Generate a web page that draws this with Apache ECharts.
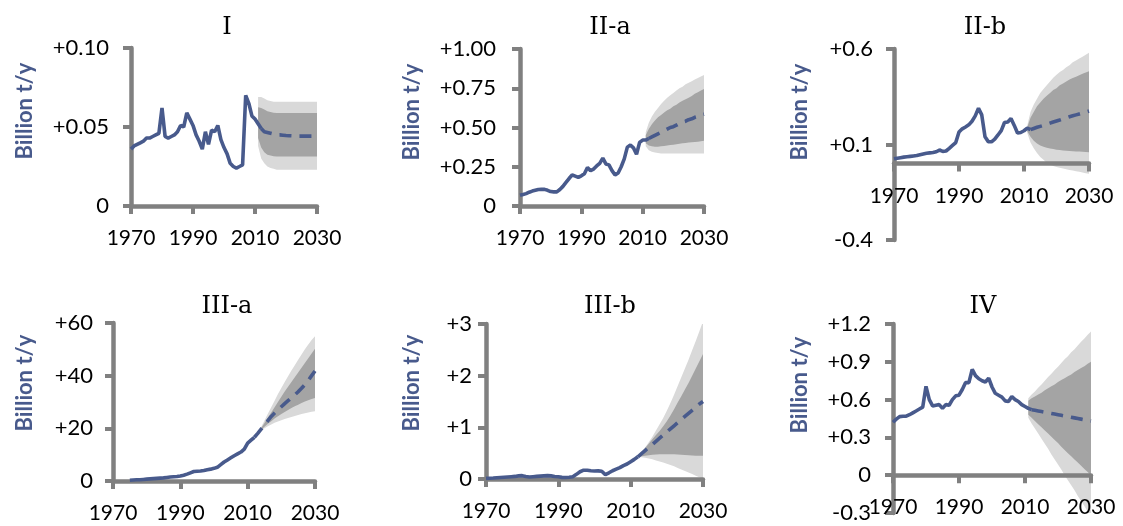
<!DOCTYPE html>
<html><head><meta charset="utf-8">
<script src="https://cdn.jsdelivr.net/npm/echarts@6/dist/echarts.min.js"></script>
<style>html,body{margin:0;padding:0;background:#fff}#c{width:1123px;height:526px}</style>
</head><body><div id="c"></div>
<script>
// ---------- DATA ----------
const histYears = [1970,1971,1972,1973,1974,1975,1976,1977,1978,1979,1980,1981,1982,1983,1984,1985,1986,1987,1988,1989,1990,1991,1992,1993,1994,1995,1996,1997,1998,1999,2000,2001,2002,2003,2004,2005,2006,2007,2008,2009,2010,2011,2012];
const foreYears = [2012,2013,2014,2015,2016,2017,2018,2019,2020,2021,2022,2023,2024,2025,2026,2027,2028,2029,2030];
const bandYears = [2011,2012,2013,2014,2015,2016,2017,2018,2019,2020,2021,2022,2023,2024,2025,2026,2027,2028,2029,2030];

const titles = ['I','II-a','II-b','III-a','III-b','IV'];
const yName = 'Billion t/y';
const xTicks = [1970,1990,2010,2030];
const xTickLabels = ['1970','1990','2010','2030'];

// Panel I
const histI = [0.036,0.038,0.039,0.040,0.041,0.043,0.043,0.044,0.045,0.046,0.062,0.044,0.043,0.044,0.045,0.047,0.051,0.050,0.059,0.055,0.051,0.045,0.041,0.036,0.047,0.039,0.048,0.047,0.051,0.042,0.037,0.033,0.027,0.025,0.024,0.025,0.026,0.070,0.065,0.057,0.055,0.052,0.049];
const foreI = [0.049,0.047,0.0465,0.046,0.0455,0.045,0.045,0.0448,0.0446,0.0445,0.0444,0.0443,0.0442,0.0442,0.0442,0.0442,0.0442,0.0442,0.0442];
const lightHiI = [0.069,0.069,0.068,0.067,0.0665,0.066,0.066,0.066,0.066,0.066,0.066,0.066,0.066,0.066,0.066,0.066,0.066,0.066,0.066,0.066];
const darkHiI  = [0.0625,0.062,0.061,0.060,0.0595,0.059,0.0588,0.0588,0.0588,0.0588,0.0588,0.0588,0.0588,0.0588,0.0588,0.0588,0.0588,0.0588,0.0588,0.0588];
const darkLoI  = [0.043,0.037,0.034,0.0325,0.032,0.0315,0.0314,0.0314,0.0314,0.0314,0.0314,0.0314,0.0314,0.0314,0.0314,0.0314,0.0314,0.0314,0.0314,0.0314];
const lightLoI = [0.038,0.030,0.027,0.025,0.024,0.0235,0.023,0.023,0.023,0.023,0.023,0.023,0.023,0.023,0.023,0.023,0.023,0.023,0.023,0.023];
const yTicksI = [0,0.05,0.10];
const yLabelsI = ['0','+0.05','+0.10'];

// Panel II-a
const histIIa = [0.068,0.073,0.079,0.088,0.095,0.100,0.105,0.107,0.106,0.100,0.092,0.090,0.090,0.105,0.125,0.150,0.175,0.198,0.190,0.182,0.192,0.205,0.245,0.225,0.235,0.255,0.272,0.305,0.268,0.262,0.225,0.198,0.210,0.250,0.300,0.375,0.388,0.370,0.330,0.405,0.420,0.420,0.430];
const foreIIa = [0.43,0.44,0.45,0.46,0.47,0.48,0.49,0.50,0.505,0.515,0.525,0.535,0.54,0.55,0.555,0.565,0.57,0.58,0.585];
const lightHiIIa = [0.47,0.53,0.57,0.60,0.625,0.65,0.67,0.69,0.705,0.72,0.735,0.75,0.76,0.775,0.785,0.795,0.805,0.815,0.825,0.835];
const darkHiIIa  = [0.45,0.49,0.52,0.545,0.565,0.58,0.595,0.61,0.62,0.635,0.645,0.66,0.67,0.68,0.69,0.70,0.715,0.725,0.735,0.745];
const darkLoIIa  = [0.40,0.385,0.38,0.378,0.378,0.38,0.382,0.385,0.388,0.39,0.393,0.396,0.399,0.402,0.404,0.406,0.408,0.41,0.412,0.415];
const lightLoIIa = [0.38,0.355,0.345,0.34,0.337,0.335,0.335,0.335,0.335,0.335,0.335,0.335,0.335,0.335,0.335,0.335,0.335,0.335,0.335,0.335];
const yTicksIIa = [0,0.25,0.5,0.75,1];
const yLabelsIIa = ['0','+0.25','+0.50','+0.75','+1.00'];

// Panel II-b
const histIIb = [0.025,0.028,0.031,0.034,0.036,0.038,0.040,0.042,0.046,0.050,0.054,0.056,0.058,0.062,0.071,0.064,0.066,0.080,0.095,0.110,0.165,0.182,0.192,0.203,0.222,0.250,0.290,0.255,0.140,0.115,0.114,0.128,0.150,0.173,0.215,0.218,0.236,0.200,0.160,0.163,0.172,0.186,0.178];
const foreIIb = [0.178,0.184,0.19,0.195,0.2,0.206,0.212,0.218,0.223,0.228,0.234,0.239,0.245,0.25,0.255,0.26,0.265,0.27,0.275];
const lightHiIIb = [0.20,0.27,0.31,0.34,0.37,0.39,0.41,0.43,0.45,0.465,0.48,0.49,0.505,0.515,0.53,0.54,0.55,0.56,0.57,0.58];
const darkHiIIb  = [0.19,0.24,0.27,0.30,0.32,0.34,0.355,0.37,0.385,0.395,0.41,0.42,0.43,0.44,0.448,0.455,0.463,0.47,0.477,0.483];
const darkLoIIb  = [0.17,0.14,0.12,0.105,0.095,0.088,0.083,0.079,0.076,0.073,0.071,0.069,0.067,0.066,0.065,0.064,0.063,0.062,0.061,0.06];
const lightLoIIb = [0.16,0.11,0.08,0.055,0.035,0.02,0.005,-0.005,-0.012,-0.018,-0.022,-0.026,-0.03,-0.033,-0.036,-0.04,-0.043,-0.047,-0.05,-0.053];
const yTicksIIb = [-0.4,0.1,0.6];
const yLabelsIIb = ['-0.4','+0.1','+0.6'];

// Panel III-a
const histIIIa = [null,null,null,null,null,0.3,0.4,0.45,0.5,0.6,0.7,0.8,0.9,1.0,1.1,1.2,1.35,1.5,1.6,1.7,1.9,2.2,2.6,3.1,3.6,3.7,3.8,4.0,4.3,4.5,4.8,5.2,6.2,7.2,8.0,8.8,9.6,10.3,11.0,12.1,14.4,15.5,16.6];
const foreIIIa = [16.6,18.1,19.7,21.3,22.9,24.5,25.8,27.0,28.2,29.4,30.5,31.6,32.7,33.9,35.2,36.6,38.2,40.0,41.8];
const lightHiIIIa = [15.5,16.6,18.1,20.5,23,25.5,28,30.5,33,35.3,37.6,39.8,42,44,46,48,50,51.8,53.5,55];
const darkHiIIIa  = [15.5,16.6,18.1,20,22,24,26,28,30,32,34,35.8,37.6,39.4,41.2,43,44.8,46.6,48.4,50.2];
const darkLoIIIa  = [15.5,16.6,18.1,19.5,20.6,21.7,22.7,23.7,24.6,25.4,26.2,27,27.7,28.4,29,29.6,30.2,30.7,31.1,31.5];
const lightLoIIIa = [15.5,16.6,18.1,19.2,20,20.8,21.5,22.1,22.6,23.1,23.5,23.9,24.3,24.7,25.1,25.4,25.7,26,26.3,26.5];
const yTicksIIIa = [0,20,40,60];
const yLabelsIIIa = ['0','+20','+40','+60'];

// Panel III-b
const histIIIb = [0.012,0.016,0.02,0.025,0.03,0.035,0.04,0.045,0.05,0.06,0.065,0.05,0.04,0.045,0.05,0.055,0.06,0.065,0.06,0.05,0.042,0.032,0.03,0.035,0.045,0.09,0.14,0.17,0.17,0.16,0.155,0.158,0.15,0.085,0.12,0.16,0.19,0.22,0.26,0.29,0.335,0.38,0.43];
const foreIIIb = [0.43,0.49,0.55,0.61,0.67,0.73,0.79,0.85,0.91,0.97,1.03,1.09,1.15,1.21,1.27,1.33,1.39,1.45,1.50];
const lightHiIIIb = [0.38,0.43,0.53,0.61,0.71,0.82,0.94,1.06,1.18,1.32,1.47,1.63,1.8,1.97,2.14,2.31,2.49,2.67,2.86,3.05];
const darkHiIIIb  = [0.38,0.43,0.52,0.6,0.68,0.77,0.85,0.93,1.02,1.12,1.23,1.35,1.48,1.6,1.73,1.86,2.0,2.14,2.28,2.42];
const darkLoIIIb  = [0.38,0.43,0.44,0.45,0.46,0.47,0.475,0.48,0.48,0.48,0.48,0.478,0.475,0.47,0.465,0.46,0.455,0.45,0.45,0.45];
const lightLoIIIb = [0.38,0.43,0.42,0.41,0.395,0.38,0.36,0.34,0.32,0.295,0.27,0.245,0.215,0.185,0.155,0.125,0.095,0.065,0.035,0.0];
const yTicksIIIb = [0,1,2,3];
const yLabelsIIIb = ['0','+1','+2','+3'];

// Panel IV
const histIV = [0.42,0.445,0.465,0.468,0.468,0.48,0.495,0.51,0.525,0.54,0.705,0.60,0.55,0.555,0.56,0.53,0.56,0.555,0.60,0.63,0.635,0.68,0.735,0.735,0.84,0.79,0.765,0.75,0.74,0.77,0.70,0.65,0.635,0.62,0.59,0.585,0.625,0.60,0.585,0.56,0.545,0.53,0.52];
const foreIV = [0.52,0.515,0.51,0.505,0.50,0.495,0.49,0.485,0.48,0.475,0.47,0.465,0.46,0.455,0.45,0.445,0.44,0.435,0.43];
const lightHiIV = [0.61,0.64,0.665,0.695,0.72,0.75,0.78,0.805,0.835,0.86,0.89,0.92,0.945,0.975,1.0,1.03,1.06,1.085,1.115,1.14];
const darkHiIV  = [0.59,0.61,0.625,0.64,0.655,0.675,0.69,0.705,0.72,0.74,0.755,0.77,0.785,0.80,0.82,0.835,0.85,0.865,0.885,0.90];
const darkLoIV  = [0.48,0.455,0.43,0.405,0.38,0.355,0.33,0.305,0.28,0.255,0.225,0.20,0.175,0.15,0.125,0.10,0.075,0.05,0.025,0.0];
const lightLoIV = [0.455,0.41,0.37,0.33,0.29,0.25,0.21,0.165,0.125,0.085,0.045,0.0,-0.04,-0.08,-0.12,-0.165,-0.205,-0.245,-0.29,-0.33];
const yTicksIV = [-0.3,0,0.3,0.6,0.9,1.2];
const yLabelsIV = ['-0.3','0','+0.3','+0.6','+0.9','+1.2'];

// ---------- ASSEMBLY ----------
const panels = [
  {hist:histI, fore:foreI, lh:lightHiI, dh:darkHiI, dl:darkLoI, ll:lightLoI, yt:yTicksI, yl:yLabelsI},
  {hist:histIIa, fore:foreIIa, lh:lightHiIIa, dh:darkHiIIa, dl:darkLoIIa, ll:lightLoIIa, yt:yTicksIIa, yl:yLabelsIIa},
  {hist:histIIb, fore:foreIIb, lh:lightHiIIb, dh:darkHiIIb, dl:darkLoIIb, ll:lightLoIIb, yt:yTicksIIb, yl:yLabelsIIb},
  {hist:histIIIa, fore:foreIIIa, lh:lightHiIIIa, dh:darkHiIIIa, dl:darkLoIIIa, ll:lightLoIIIa, yt:yTicksIIIa, yl:yLabelsIIIa},
  {hist:histIIIb, fore:foreIIIb, lh:lightHiIIIb, dh:darkHiIIIb, dl:darkLoIIIb, ll:lightLoIIIb, yt:yTicksIIIb, yl:yLabelsIIIb},
  {hist:histIV, fore:foreIV, lh:lightHiIV, dh:darkHiIV, dl:darkLoIV, ll:lightLoIV, yt:yTicksIV, yl:yLabelsIV}
];
const layout = [
  {grid:{left:131,top:48,width:186,height:158}, lm:22, title:[227,28], name:[25,111]},
  {grid:{left:520,top:49,width:184,height:157}, lm:24, title:[610,28], name:[412,112]},
  {grid:{left:894,top:49,width:195,height:191}, lm:21, title:[985,28], name:[800,112]},
  {grid:{left:113,top:323,width:202,height:158}, lm:20, title:[227,307], name:[25,383]},
  {grid:{left:486,top:324,width:217,height:155}, lm:14, title:[610,307], name:[412,383]},
  {grid:{left:893,top:324,width:198,height:189}, lm:22, title:[983,307], name:[800,385]}
];

const LINE = '#485a8c', AXIS = '#808080', LIGHT = '#d9d9d9', DARK = '#a4a4a4';
const FONT = 'Lato';

function bandSeries(i, lo, hi, color) {
  return {
    type:'custom', xAxisIndex:i, yAxisIndex:i, silent:true, clip:true, z:1, animation:false,
    data: bandYears.map((y,k)=>[y, lo[k], hi[k]]),
    encode:{x:0, y:[1,2]},
    renderItem:(params, api) => {
      if (params.dataIndex !== 0) return null;
      const top = bandYears.map((y,k)=>api.coord([y, hi[k]]));
      const bot = bandYears.map((y,k)=>api.coord([y, lo[k]])).reverse();
      return {type:'polygon', shape:{points: top.concat(bot)}, style:{fill:color, stroke:null}};
    }
  };
}

const grids = [], xAxes = [], yAxes = [], series = [], graphics = [];
panels.forEach((p, i) => {
  const L = layout[i];
  const yMin = p.yt[0], yMax = p.yt[p.yt.length-1];
  // place the x axis on the value 0 of the y axis
  const zeroShift = yMin < 0 ? -L.grid.height * (0 - yMin) / (yMax - yMin) : 0;
  grids.push(Object.assign({containLabel:false}, L.grid));
  xAxes.push({
    type:'value', gridIndex:i, min:1970, max:2030, offset:zeroShift, z:2,
    axisLine:{show:true, onZero:false, lineStyle:{color:AXIS, width:4.5}},
    axisTick:{show:true, customValues:xTicks, length:8, lineStyle:{color:AXIS, width:4}},
    axisLabel:{customValues:xTicks, margin:22, color:'#000', fontFamily:FONT, fontSize:21,
      formatter:v => xTickLabels[xTicks.indexOf(v)] ?? String(v)},
    splitLine:{show:false}
  });
  yAxes.push({
    type:'value', gridIndex:i, min:yMin, max:yMax, z:2,
    axisLine:{show:true, onZero:false, lineStyle:{color:AXIS, width:4.5}},
    axisTick:{show:true, customValues:p.yt, length:8, lineStyle:{color:AXIS, width:4}},
    axisLabel:{customValues:p.yt, margin:L.lm, color:'#000', fontFamily:FONT, fontSize:22,
      formatter:v => { let k=0, d=Infinity; p.yt.forEach((t,j)=>{ if(Math.abs(t-v)<d){d=Math.abs(t-v);k=j;} }); return p.yl[k]; }},
    splitLine:{show:false}
  });
  series.push(bandSeries(i, p.ll, p.lh, LIGHT));
  series.push(bandSeries(i, p.dl, p.dh, DARK));
  const common = {type:'line', xAxisIndex:i, yAxisIndex:i, symbol:'none', silent:true, animation:false, z:3};
  series.push(Object.assign({}, common, {data: histYears.map((y,k)=>[y, p.hist[k]]),
    lineStyle:{color:LINE, width:3.6}}));
  series.push(Object.assign({}, common, {data: foreYears.map((y,k)=>[y, p.fore[k]]),
    lineStyle:{color:LINE, width:3.6, type:[12,8]}}));
  graphics.push({type:'text', x:L.title[0], y:L.title[1], silent:true,
    style:{text:titles[i], fill:'#000', font:'24px "DejaVu Serif"', align:'center', verticalAlign:'middle'}});
  graphics.push({type:'text', x:L.name[0], y:L.name[1], rotation:Math.PI/2, silent:true,
    style:{text:yName, fill:LINE, font:'bold 22px Lato', align:'center', verticalAlign:'middle'}});
});

const chart = echarts.init(document.getElementById('c'), null, {renderer:'canvas'});
chart.setOption({animation:false, grid:grids, xAxis:xAxes, yAxis:yAxes, series, graphic:graphics});
</script></body></html>
